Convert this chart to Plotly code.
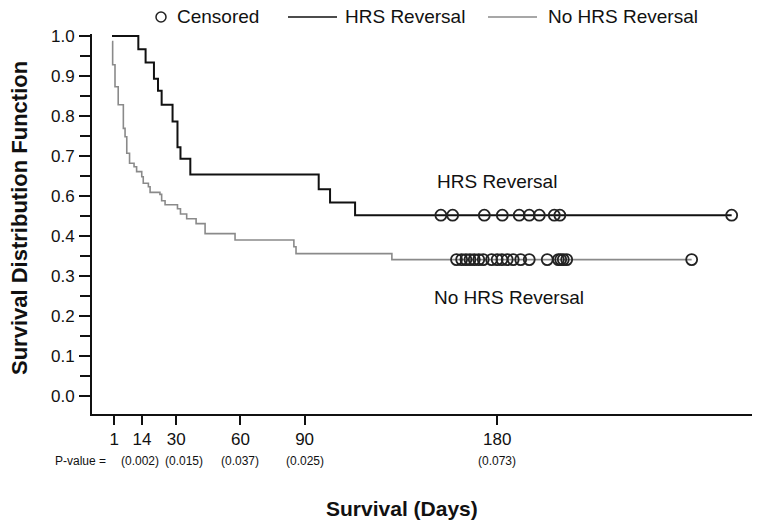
import numpy as np
import plotly.graph_objects as go

# ---- data ----
hrs_days = [0, 12.3, 15.7, 19.6, 21.5, 23.2, 28.3, 30.6, 32.0, 36.6, 96.6, 101.9, 113.6, 289.6]
hrs_surv = [1.0, 0.967, 0.934, 0.893, 0.863, 0.828, 0.786, 0.722, 0.693, 0.654, 0.617, 0.584, 0.552, 0.552]

no_days = [0, 0.3, 1.4, 2.9, 5.3, 6.1, 6.9, 8.2, 10.3, 11.5, 13.9, 14.6, 17.0, 17.8, 22.4,
           23.2, 24.8, 30.6, 32.0, 34.9, 39.3, 43.5, 57.5, 85.0, 86.0, 130.8, 270.9]
no_surv = [0.986, 0.928, 0.873, 0.828, 0.769, 0.748, 0.707, 0.682, 0.673, 0.661, 0.648, 0.632,
           0.623, 0.609, 0.604, 0.588, 0.578, 0.568, 0.555, 0.543, 0.531, 0.506, 0.490, 0.473,
           0.456, 0.441, 0.441]

hrs_censored = [153.7, 159.2, 174.0, 182.4, 190.3, 195.0, 199.7, 206.7, 209.3, 289.6]
no_censored = [161.0, 163.4, 165.4, 167.3, 169.3, 171.4, 173.5, 177.4, 180.0, 182.2, 184.7,
               187.5, 191.0, 195.0, 203.4, 208.6, 209.7, 210.9, 212.5, 270.9]

x_tickvals = [1, 14, 30, 60, 90, 180]
y_tickvals = [0.1, 0.2, 0.3, 0.4, 0.5, 0.6, 0.7, 0.8, 0.9, 1.0]
y_ticktext = ["0.0", "0.1", "0.2", "0.3", "0.4", "0.6", "0.7", "0.8", "0.9", "1.0"]
y_minor = [0.15, 0.25, 0.35, 0.45, 0.55, 0.65, 0.75, 0.85, 0.95]

p_days = [14, 30, 60, 90, 180]
p_text = ["(0.002)", "(0.015)", "(0.037)", "(0.025)", "(0.073)"]
p_shift = [-2, 8, 0, 0, 0]

legend_names = ["Censored", "HRS Reversal", "No HRS Reversal"]


def step_value(days, surv, t):
    i = np.searchsorted(np.array(days), t, side="right") - 1
    return surv[i]


FONT = "Liberation Sans, Arial, Helvetica, sans-serif"
GRAY = "#8a8a8a"
INK = "#111"

# the page body has an 8px margin; work in window pixels and convert
OFF = 8
W, H = 762 - 2 * OFF, 529 - 2 * OFF
PL, PR, PT, PB = 92, 752, 34, 414          # plot area in window pixels
L, T = PL - OFF, PT - OFF
R, B = W - (PR - OFF), H - (PB - OFF)
pw, ph = PR - PL, PB - PT


def px2paper(px, py):
    return (px - PL) / pw, (PB - py) / ph


fig = go.Figure()
fig.add_trace(go.Scatter(x=no_days, y=no_surv, mode="lines", line=dict(shape="hv", color=GRAY, width=1.6),
                         name=legend_names[2], showlegend=False))
fig.add_trace(go.Scatter(x=hrs_days, y=hrs_surv, mode="lines", line=dict(shape="hv", color=INK, width=2),
                         name=legend_names[1], showlegend=False))
cx = hrs_censored + no_censored
cy = [step_value(hrs_days, hrs_surv, t) for t in hrs_censored] + [step_value(no_days, no_surv, t) for t in no_censored]
fig.add_trace(go.Scatter(x=cx, y=cy, mode="markers", name=legend_names[0], showlegend=False,
                         marker=dict(symbol="circle-open", size=11, color="#222", line=dict(width=1.8))))

# manual legend at the top
ly = 17
cxp, cyp = px2paper(161, ly)
fig.add_shape(type="circle", xref="paper", yref="paper", xsizemode="pixel", ysizemode="pixel",
              xanchor=cxp, yanchor=cyp, x0=-5, x1=5, y0=-5, y1=5, line=dict(color="#222", width=1.5))
x0, y0 = px2paper(288, ly); x1, _ = px2paper(337, ly)
fig.add_shape(type="line", xref="paper", yref="paper", x0=x0, x1=x1, y0=y0, y1=y0, line=dict(color=INK, width=1.5))
x0, _ = px2paper(488, ly); x1, _ = px2paper(537, ly)
fig.add_shape(type="line", xref="paper", yref="paper", x0=x0, x1=x1, y0=y0, y1=y0, line=dict(color=GRAY, width=1.5))
for name, tx in zip(legend_names, [175, 343, 546]):
    ax, ay = px2paper(tx, ly)
    fig.add_annotation(x=ax, y=ay, xref="paper", yref="paper", text=name, showarrow=False,
                       xanchor="left", yanchor="middle", font=dict(size=19, color=INK, family=FONT))

# curve labels
fig.add_annotation(x=180.1, y=0.636, text="HRS Reversal", showarrow=False,
                   xanchor="center", yanchor="middle", font=dict(size=19, color=INK, family=FONT))
fig.add_annotation(x=185.6, y=0.347, text="No HRS Reversal", showarrow=False,
                   xanchor="center", yanchor="middle", font=dict(size=19, color=INK, family=FONT))

# p-values
px_, py_ = px2paper(108, 461)
fig.add_annotation(x=px_, y=py_, xref="paper", yref="paper", text="P-value =", showarrow=False,
                   xanchor="right", yanchor="middle", font=dict(size=12, color=INK, family=FONT))
for d, t, s in zip(p_days, p_text, p_shift):
    fig.add_annotation(x=d, y=py_, xref="x", yref="paper", text=t, showarrow=False, xshift=s,
                       xanchor="center", yanchor="middle", font=dict(size=12, color=INK, family=FONT))

# axis titles
ax, ay = px2paper(401.5, 508)
fig.add_annotation(x=ax, y=ay, xref="paper", yref="paper", text="<b>Survival (Days)</b>", showarrow=False,
                   xanchor="center", yanchor="middle", font=dict(size=21, color=INK, family=FONT))
ax, ay = px2paper(20, 218)
fig.add_annotation(x=ax, y=ay, xref="paper", yref="paper", text="<b>Survival Distribution Function</b>",
                   showarrow=False, textangle=-90, xanchor="center", yanchor="middle",
                   font=dict(size=22, color=INK, family=FONT))

fig.update_xaxes(range=[-9.35, 299.1], tickvals=x_tickvals, ticks="outside", ticklen=9, tickwidth=1.5,
                 tickcolor=INK, showline=True, linecolor=INK, linewidth=2, showgrid=False,
                 zeroline=False, tickfont=dict(size=17, color=INK, family=FONT))
fig.update_yaxes(range=[0.055, 1.005], tickvals=y_tickvals, ticktext=y_ticktext, ticks="outside", ticklen=11,
                 tickwidth=1.5, tickcolor=INK, showline=True, linecolor=INK, linewidth=2, showgrid=False,
                 zeroline=False, tickfont=dict(size=17, color=INK, family=FONT), ticklabelstandoff=1,
                 minor=dict(tickvals=y_minor, ticks="outside", ticklen=10, tickwidth=1.5, tickcolor=INK,
                            showgrid=False))
fig.update_layout(width=W, height=H, margin=dict(l=L, r=R, t=T, b=B), plot_bgcolor="white",
                  paper_bgcolor="white", showlegend=False, font=dict(family=FONT, color=INK))
fig.write_html("out.html")
